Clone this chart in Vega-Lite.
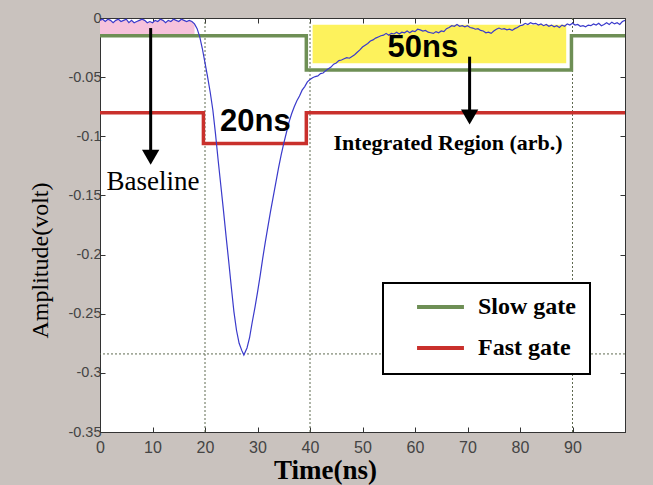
{
  "$schema": "https://vega.github.io/schema/vega-lite/v6.json",
  "width": 525,
  "height": 414,
  "autosize": {"type": "none"},
  "padding": {"left": 100, "top": 18, "right": 28, "bottom": 53},
  "background": "#c9c2be",
  "config": {
    "view": {"fill": "white", "stroke": "#333", "strokeWidth": 1},
    "legend": {"strokeWidth": 2}
  },
  "datasets": {
    "curve": [
      {"t":0,"v":-0.002},{"t":0.5,"v":-0.001},{"t":1,"v":-0.003},{"t":1.5,"v":-0.001},{"t":2,"v":-0.002},{"t":2.5,"v":-0.004},{"t":3,"v":-0.002},{"t":3.5,"v":-0.001},{"t":4,"v":-0.003},{"t":4.5,"v":-0.002},{"t":5,"v":-0.001},{"t":5.5,"v":-0.004},{"t":6,"v":-0.002},{"t":6.5,"v":-0.004},{"t":7,"v":-0.003},{"t":7.5,"v":-0.002},{"t":8,"v":-0.001},{"t":8.5,"v":-0.002},{"t":9,"v":-0.004},{"t":9.5,"v":-0.003},{"t":10,"v":-0.004},{"t":10.5,"v":-0.002},{"t":11,"v":-0.003},{"t":11.5,"v":-0.001},{"t":12,"v":-0.002},{"t":12.5,"v":-0.004},{"t":13,"v":-0.002},{"t":13.5,"v":-0.003},{"t":14,"v":-0.001},{"t":14.5,"v":-0.002},{"t":15,"v":-0.003},{"t":15.5,"v":-0.001},{"t":16,"v":-0.002},{"t":16.5,"v":-0.003},{"t":17,"v":-0.002},{"t":17.5,"v":-0.003},
      {"t":18,"v":-0.005},{"t":18.5,"v":-0.009},{"t":19,"v":-0.016},{"t":19.5,"v":-0.026},{"t":20,"v":-0.038},{"t":20.5,"v":-0.05},{"t":21,"v":-0.063},{"t":21.5,"v":-0.078},{"t":22,"v":-0.098},{"t":22.5,"v":-0.12},{"t":23,"v":-0.141},{"t":23.5,"v":-0.162},{"t":24,"v":-0.184},{"t":24.5,"v":-0.205},{"t":25,"v":-0.227},{"t":25.5,"v":-0.248},{"t":26,"v":-0.264},{"t":26.5,"v":-0.275},{"t":27,"v":-0.281},{"t":27.4,"v":-0.285},{"t":28,"v":-0.279},{"t":28.5,"v":-0.27},{"t":29,"v":-0.257},{"t":29.5,"v":-0.245},{"t":30,"v":-0.232},{"t":30.5,"v":-0.218},{"t":31,"v":-0.203},{"t":31.5,"v":-0.189},{"t":32,"v":-0.176},{"t":32.5,"v":-0.163},{"t":33,"v":-0.151},{"t":33.5,"v":-0.139},{"t":34,"v":-0.127},{"t":34.5,"v":-0.116},{"t":35,"v":-0.106},{"t":35.5,"v":-0.097},{"t":36,"v":-0.088},{"t":36.5,"v":-0.081},{"t":37,"v":-0.075},{"t":37.5,"v":-0.07},{"t":38,"v":-0.066},{"t":38.5,"v":-0.061},{"t":39,"v":-0.058},{"t":39.5,"v":-0.054},{"t":40,"v":-0.052},{"t":40.5,"v":-0.0505},{"t":41,"v":-0.0495},{"t":41.5,"v":-0.049},{"t":42,"v":-0.047},{"t":42.5,"v":-0.0465},{"t":43,"v":-0.0445},{"t":43.5,"v":-0.043},{"t":44,"v":-0.0415},{"t":44.5,"v":-0.039},{"t":45,"v":-0.038},{"t":45.5,"v":-0.036},{"t":46,"v":-0.0355},{"t":46.5,"v":-0.0345},{"t":47,"v":-0.0335},{"t":47.5,"v":-0.034},{"t":48,"v":-0.0325},{"t":48.5,"v":-0.031},{"t":49,"v":-0.029},{"t":49.5,"v":-0.027},{"t":50,"v":-0.0245},{"t":50.5,"v":-0.023},{"t":51,"v":-0.0215},{"t":51.5,"v":-0.0195},{"t":52,"v":-0.0185},{"t":52.5,"v":-0.017},{"t":53,"v":-0.016},{"t":53.5,"v":-0.015},
      {"t":54,"v":-0.0145},{"t":54.5,"v":-0.013},{"t":55,"v":-0.0145},{"t":55.5,"v":-0.013},{"t":56,"v":-0.0135},{"t":56.5,"v":-0.012},{"t":57,"v":-0.0135},{"t":57.5,"v":-0.012},{"t":58,"v":-0.0125},{"t":58.5,"v":-0.011},{"t":59,"v":-0.0125},{"t":59.5,"v":-0.011},{"t":60,"v":-0.0115},{"t":60.5,"v":-0.0095},{"t":61,"v":-0.01},{"t":61.5,"v":-0.011},{"t":62,"v":-0.0105},{"t":62.5,"v":-0.012},{"t":63,"v":-0.0125},{"t":63.5,"v":-0.013},{"t":64,"v":-0.0115},{"t":64.5,"v":-0.0125},{"t":65,"v":-0.011},{"t":65.5,"v":-0.0115},{"t":66,"v":-0.009},{"t":66.5,"v":-0.008},{"t":67,"v":-0.0065},{"t":67.5,"v":-0.007},{"t":68,"v":-0.0055},{"t":68.5,"v":-0.007},{"t":69,"v":-0.0065},{"t":69.5,"v":-0.0075},{"t":70,"v":-0.0065},{"t":70.5,"v":-0.008},{"t":71,"v":-0.0085},{"t":71.5,"v":-0.0095},{"t":72,"v":-0.009},{"t":72.5,"v":-0.0105},{"t":73,"v":-0.011},{"t":73.5,"v":-0.0125},{"t":74,"v":-0.012},{"t":74.5,"v":-0.013},{"t":75,"v":-0.011},{"t":75.5,"v":-0.0095},{"t":76,"v":-0.0085},{"t":76.5,"v":-0.0095},{"t":77,"v":-0.009},{"t":77.5,"v":-0.01},{"t":78,"v":-0.0095},{"t":78.5,"v":-0.0105},{"t":79,"v":-0.009},{"t":79.5,"v":-0.008},{"t":80,"v":-0.0065},{"t":80.5,"v":-0.006},{"t":81,"v":-0.0045},{"t":81.5,"v":-0.0055},{"t":82,"v":-0.004},{"t":82.5,"v":-0.005},{"t":83,"v":-0.0045},{"t":83.5,"v":-0.006},{"t":84,"v":-0.005},{"t":84.5,"v":-0.0065},{"t":85,"v":-0.0055},{"t":85.5,"v":-0.007},{"t":86,"v":-0.006},{"t":86.5,"v":-0.0075},{"t":87,"v":-0.0065},{"t":87.5,"v":-0.008},{"t":88,"v":-0.006},{"t":88.5,"v":-0.007},{"t":89,"v":-0.005},{"t":89.5,"v":-0.006},{"t":90,"v":-0.0045},{"t":90.5,"v":-0.006},{"t":91,"v":-0.0055},{"t":91.5,"v":-0.007},{"t":92,"v":-0.0065},{"t":92.5,"v":-0.0075},{"t":93,"v":-0.006},{"t":93.5,"v":-0.0065},{"t":94,"v":-0.005},{"t":94.5,"v":-0.006},{"t":95,"v":-0.0045},{"t":95.5,"v":-0.0065},{"t":96,"v":-0.0055},{"t":96.5,"v":-0.004},{"t":97,"v":-0.0055},{"t":97.5,"v":-0.0035},{"t":98,"v":-0.005},{"t":98.5,"v":-0.004},{"t":99,"v":-0.0055},{"t":99.5,"v":-0.003},{"t":100,"v":-0.002}
    ],
    "gates": [
      {"gate":"Slow gate","t":0,"v":-0.015},{"gate":"Slow gate","t":39.3,"v":-0.044},{"gate":"Slow gate","t":89.8,"v":-0.015},{"gate":"Slow gate","t":100,"v":-0.015},
      {"gate":"Fast gate","t":0,"v":-0.08},{"gate":"Fast gate","t":19.7,"v":-0.106},{"gate":"Fast gate","t":39.3,"v":-0.08},{"gate":"Fast gate","t":100,"v":-0.08}
    ],
    "yellow": [{"t":40.5,"t2":88.8,"v":-0.0058,"v2":-0.0383}],
    "vrules": [{"t":20},{"t":40},{"t":90}],
    "hrules": [{"v":-0.284}],
    "sansLabels": [{"t":29.6,"v":-0.088,"label":"20ns"},{"t":61.5,"v":-0.0255,"label":"50ns"}],
    "baselineLabel": [{"t":10.1,"v":-0.1385,"label":"Baseline"}],
    "regionLabel": [{"t":66.3,"v":-0.106,"label":"Integrated Region (arb.)"}],
    "shafts": [{"t":9.65,"v":-0.0085,"v2":-0.113},{"t":70.4,"v":-0.0327,"v2":-0.08}],
    "heads": [{"t":9.65,"v":-0.1178},{"t":70.4,"v":-0.0838}]
  },
  "resolve": {"axis": {"x": "independent", "y": "independent"}},
  "layer": [
    {
      "data": {"name": "yellow"},
      "mark": {"type": "rect", "color": "#fdf25c"},
      "encoding": {
        "x": {"field": "t", "type": "quantitative", "scale": {"domain": [0, 100], "nice": false, "zero": false},
          "axis": {"orient": "bottom", "values": [0,10,20,30,40,50,60,70,80,90], "grid": false, "labelFlush": false,
            "title": "Time(ns)", "titleFont": "Liberation Serif", "titleFontWeight": "bold", "titleFontSize": 27, "titleColor": "black",
            "titleX": 225, "titleY": 46, "titleBaseline": "alphabetic", "titleAlign": "center",
            "labelFont": "Liberation Sans", "labelFontSize": 16, "labelColor": "#444", "tickSize": -5, "labelPadding": 12,
            "domainColor": "#333", "tickColor": "#333"}},
        "x2": {"field": "t2"},
        "y": {"field": "v", "type": "quantitative", "scale": {"domain": [-0.35, 0], "nice": false, "zero": false},
          "axis": {"orient": "left", "values": [0,-0.05,-0.1,-0.15,-0.2,-0.25,-0.3,-0.35], "grid": false, "labelFlush": false,
            "labelExpr": "datum.value == 0 ? '0' : '-' + format(abs(datum.value), '.2~f')",
            "title": "Amplitude(volt)", "titleFont": "Liberation Serif", "titleFontWeight": "normal", "titleFontSize": 24, "titleColor": "black",
            "titleX": -60, "titleY": 242, "titleBaseline": "middle", "titleAlign": "center",
            "labelFont": "Liberation Sans", "labelFontSize": 14.5, "labelColor": "#444", "tickSize": -5, "labelPadding": 4,
            "domainColor": "#333", "tickColor": "#333"}},
        "y2": {"field": "v2"}
      }
    },
    {
      "data": {"name": "curve"},
      "transform": [{"filter": "datum.t <= 18"}],
      "mark": {"type": "area", "color": "#f6c2dc"},
      "encoding": {
        "x": {"field": "t", "type": "quantitative", "scale": {"domain": [0, 100], "nice": false, "zero": false},
          "axis": {"orient": "top", "values": [0,10,20,30,40,50,60,70,80,90], "labels": false, "title": null, "grid": false, "tickSize": -5, "domainColor": "#333", "tickColor": "#333"}},
        "y": {"field": "v", "type": "quantitative", "scale": {"domain": [-0.35, 0], "nice": false, "zero": false},
          "axis": {"orient": "right", "values": [0,-0.05,-0.1,-0.15,-0.2,-0.25,-0.3,-0.35], "labels": false, "title": null, "grid": false, "tickSize": -5, "domainColor": "#333", "tickColor": "#333"}},
        "y2": {"datum": -0.015}
      }
    },
    {
      "data": {"name": "vrules"},
      "mark": {"type": "rule", "color": "#5f6a50", "strokeDash": [2, 2], "strokeWidth": 1},
      "encoding": {
        "x": {"field": "t", "type": "quantitative", "scale": {"domain": [0, 100], "nice": false, "zero": false}, "axis": null}
      }
    },
    {
      "data": {"name": "hrules"},
      "mark": {"type": "rule", "color": "#5f6a50", "strokeDash": [2, 2], "strokeWidth": 1},
      "encoding": {
        "y": {"field": "v", "type": "quantitative", "scale": {"domain": [-0.35, 0], "nice": false, "zero": false}, "axis": null}
      }
    },
    {
      "data": {"name": "gates"},
      "mark": {"type": "line", "interpolate": "step-after", "strokeWidth": 3.5},
      "encoding": {
        "x": {"field": "t", "type": "quantitative", "scale": {"domain": [0, 100], "nice": false, "zero": false}, "axis": null},
        "y": {"field": "v", "type": "quantitative", "scale": {"domain": [-0.35, 0], "nice": false, "zero": false}, "axis": null},
        "color": {"field": "gate", "type": "nominal",
          "scale": {"domain": ["Slow gate", "Fast gate"], "range": ["#6e8f55", "#c9302c"]},
          "legend": {"orient": "none", "legendX": 283, "legendY": 265, "title": null,
            "symbolType": "stroke", "symbolSize": 2200, "symbolStrokeWidth": 4,
            "labelFont": "Liberation Serif", "labelFontWeight": "bold", "labelFontSize": 24, "labelColor": "black",
            "fillColor": "white", "strokeColor": "black", "padding": 14, "symbolOffset": 18, "labelOffset": 12,
            "clipHeight": 20, "rowPadding": 17, "labelExpr": "datum.label + '    '"}}
      }
    },
    {
      "data": {"name": "curve"},
      "mark": {"type": "line", "color": "#3a3acb", "strokeWidth": 1.2},
      "encoding": {
        "x": {"field": "t", "type": "quantitative", "scale": {"domain": [0, 100], "nice": false, "zero": false}, "axis": null},
        "y": {"field": "v", "type": "quantitative", "scale": {"domain": [-0.35, 0], "nice": false, "zero": false}, "axis": null}
      }
    },
    {
      "data": {"name": "shafts"},
      "mark": {"type": "rule", "color": "black", "strokeWidth": 3},
      "encoding": {
        "x": {"field": "t", "type": "quantitative", "scale": {"domain": [0, 100], "nice": false, "zero": false}, "axis": null},
        "y": {"field": "v", "type": "quantitative", "scale": {"domain": [-0.35, 0], "nice": false, "zero": false}, "axis": null},
        "y2": {"field": "v2"}
      }
    },
    {
      "data": {"name": "heads"},
      "mark": {"type": "point", "shape": "triangle-down", "filled": true, "color": "black", "size": 300, "opacity": 1},
      "encoding": {
        "x": {"field": "t", "type": "quantitative", "scale": {"domain": [0, 100], "nice": false, "zero": false}, "axis": null},
        "y": {"field": "v", "type": "quantitative", "scale": {"domain": [-0.35, 0], "nice": false, "zero": false}, "axis": null}
      }
    },
    {
      "data": {"name": "sansLabels"},
      "mark": {"type": "text", "font": "Liberation Sans", "fontWeight": "bold", "fontSize": 31, "color": "black", "align": "center", "baseline": "middle"},
      "encoding": {
        "x": {"field": "t", "type": "quantitative", "scale": {"domain": [0, 100], "nice": false, "zero": false}, "axis": null},
        "y": {"field": "v", "type": "quantitative", "scale": {"domain": [-0.35, 0], "nice": false, "zero": false}, "axis": null},
        "text": {"field": "label"}
      }
    },
    {
      "data": {"name": "baselineLabel"},
      "mark": {"type": "text", "font": "Liberation Serif", "fontSize": 27, "color": "black", "align": "center", "baseline": "middle"},
      "encoding": {
        "x": {"field": "t", "type": "quantitative", "scale": {"domain": [0, 100], "nice": false, "zero": false}, "axis": null},
        "y": {"field": "v", "type": "quantitative", "scale": {"domain": [-0.35, 0], "nice": false, "zero": false}, "axis": null},
        "text": {"field": "label"}
      }
    },
    {
      "data": {"name": "regionLabel"},
      "mark": {"type": "text", "font": "Liberation Serif", "fontWeight": "bold", "fontSize": 22, "color": "black", "align": "center", "baseline": "middle"},
      "encoding": {
        "x": {"field": "t", "type": "quantitative", "scale": {"domain": [0, 100], "nice": false, "zero": false}, "axis": null},
        "y": {"field": "v", "type": "quantitative", "scale": {"domain": [-0.35, 0], "nice": false, "zero": false}, "axis": null},
        "text": {"field": "label"}
      }
    }
  ]
}
